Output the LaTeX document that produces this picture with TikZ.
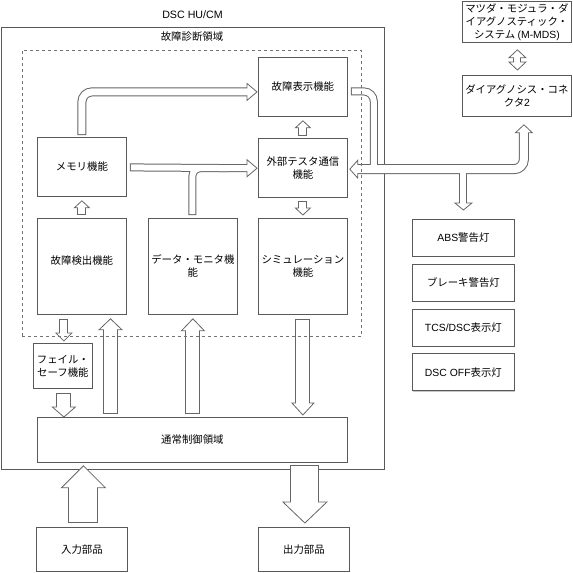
\documentclass[tikz,border=0pt]{standalone}
\usepackage{fontspec}
\setmainfont{Noto Sans CJK JP}
\newfontfamily\lat{Liberation Sans}
\usetikzlibrary{calc,positioning,shadows}

\pgfdeclarelayer{shaftgray}
\pgfdeclarelayer{heads}
\pgfdeclarelayer{shaftwhite}
\pgfdeclarelayer{front}
\pgfsetlayers{main,shaftgray,heads,shaftwhite,front}

\tikzset{
  box/.style={draw=black!65, fill=white, line width=0.6pt, align=center, inner sep=0.5pt,
    font=\fontsize{7.8pt}{9.75pt}\selectfont, anchor=north west,
    drop shadow={shadow xshift=0.75pt, shadow yshift=-0.75pt, fill=black!22, opacity=1}},
  func/.style={box, minimum width=66.75pt, minimum height=44.25pt},
  tall/.style={box, minimum width=66.75pt, minimum height=72pt},
  lamp/.style={box, minimum width=76.5pt, minimum height=27.75pt},
  part/.style={box, minimum width=68.25pt, minimum height=33pt},
  region/.style={draw=black!65, line width=0.6pt, inner sep=0pt, anchor=north west},
  caption/.style={font=\fontsize{7.8pt}{9.75pt}\selectfont, inner sep=0pt},
  gray pass/.style={draw=black!60, line cap=butt},
  white pass/.style={draw=white, line cap=butt},
  headline/.style={draw=black!60, fill=white, line width=0.6pt, line join=miter},
}

% shaft of a block arrow: #2 width in px, #3 path
\newcommand\flexshaft[3][]{%
  \begin{pgfonlayer}{shaftgray}\draw[gray pass, line width=#2*0.75pt] #3;\end{pgfonlayer}%
  \begin{pgfonlayer}{shaftwhite}\draw[white pass, line width=#2*0.75pt-1.5pt, #1] #3;\end{pgfonlayer}}
% head of a block arrow: tip, angle, length, half width
\newcommand\flexhead[4]{%
  \begin{pgfonlayer}{heads}\filldraw[headline, shift={#1}, rotate=#2] (0,0) -- (-#3,#4) -- (-#3,-#4) -- cycle;\end{pgfonlayer}}

\begin{document}
\begin{tikzpicture}[x=0.75pt, y=-0.75pt]
  \useasboundingbox (0,0) rectangle (573,572);

  % DSC HU/CM
  \node[region, minimum width=287.25pt, minimum height=331.5pt] (hucm) at (1,27) {};
  \node[caption, font=\lat\fontsize{8pt}{9.6pt}\selectfont] (hucmtitle) at (192.5,15) {DSC HU/CM};
  \node[caption] (diagtitle) at (192,37) {故障診断領域};

  \node[func] (koshohyoji) at (258,57) {故障表示機能};
  \node[func] (memory) at (37,137) {メモリ機能};
  \node[func, below=15.75pt of koshohyoji] (gaibu) {外部テスタ通信\\機能};
  \node[tall] (kenshutsu) at (37,218) {故障検出機能\\\mbox{}};
  \node[tall] (datamon) at (148,218) {データ・モニタ機\\能};
  \node[tall] (simulation) at (258,218) {シミュレーション\\機能};
  \node[box, minimum width=44.25pt, minimum height=33.75pt] (failsafe) at (33,343) {フェイル・\\セーフ機能};
  \node[box, minimum width=232.5pt, minimum height=33.75pt] (tsujo) at (37,417) {通常制御領域};

  \node[part] (nyuryoku) at (36,527) {入力部品};
  \node[part] (shutsuryoku) at (258,527) {出力部品};

  \node[box, minimum width=81.75pt, minimum height=30.75pt] (mmds) at (462,1) {マツダ・モジュラ・ダ\\イアグノスティック・\\システム {\lat(M-MDS)}};
  \node[box, minimum width=81.75pt, minimum height=30.75pt] (diag) at (462,75) {ダイアグノシス・コネ\\クタ{\lat 2}};

  \node[lamp] (abs) at (412,219) {{\lat ABS}警告灯};
  \node[lamp, below=5.25pt of abs] (brake) {ブレーキ警告灯};
  \node[lamp, below=5.25pt of brake] (tcs) {{\lat TCS/DSC}表示灯};
  \node[lamp, below=5.25pt of tcs] (dscoff) {{\lat DSC OFF}表示灯};

  \begin{pgfonlayer}{front}
    \node[region, draw=black!55, dash pattern=on 2.25pt off 2.25pt, minimum width=254.6pt, minimum height=214.5pt] (diagarea) at (22,50) {};
  \end{pgfonlayer}

  % memory -> display, memory/data monitor -> tester
  \flexshaft[shorten <=0.75pt]{9}{[rounded corners=7.5pt] ($(memory.north)+(0,-2)$) |- ($(koshohyoji.west)+(-8,5)$)}
  \flexhead{($(koshohyoji.west)+(-1,5)$)}{0}{10}{8.5}
  \flexshaft[shorten <=0.75pt]{8}{($(memory.east)+(3,0.5)$) -- ($(gaibu.west)+(-8,0.5)$)}
  \flexshaft[shorten <=0.75pt]{8}{[rounded corners=6pt] ($(datamon.north)+(-0.5,-3)$) |- ($(gaibu.west)+(-30,0.5)$)}
  \flexhead{($(gaibu.west)+(-1,0.5)$)}{0}{10}{8.5}

  % small arrows
  \flexshaft[shorten <=0.75pt]{9}{($(kenshutsu.north)+(0,-3)$) -- ($(memory.south)+(0,9)$)}
  \flexhead{($(memory.south)+(0,4)$)}{90}{7}{7.5}
  \flexshaft[shorten <=0.75pt]{9}{($(gaibu.north)+(0,-2)$) -- ($(koshohyoji.south)+(0,9)$)}
  \flexhead{($(koshohyoji.south)+(0,4)$)}{90}{7}{7.5}
  \flexshaft[shorten <=0.75pt]{9}{($(gaibu.south)+(0,3)$) -- ($(simulation.north)+(0,-8)$)}
  \flexhead{($(simulation.north)+(0,-3)$)}{-90}{7}{7.5}

  % fail-safe
  \flexshaft[shorten <=0.75pt]{9}{($(failsafe.north |- kenshutsu.south)+(1,4)$) -- ($(failsafe.north)+(1,-8)$)}
  \flexhead{($(failsafe.north)+(1,-2)$)}{-90}{8}{8}
  \flexshaft[shorten <=0.75pt]{15}{($(failsafe.south)+(1,4)$) -- ($(failsafe.south |- tsujo.north)+(1,-8)$)}
  \flexhead{($(failsafe.south |- tsujo.north)+(1,0)$)}{-90}{10}{11.5}

  % normal control <-> diagnosis
  \flexshaft[shorten <=0.75pt]{15}{($(tsujo.north west)+(73.5,-3)$) -- ($(kenshutsu.south west)+(73.5,13)$)}
  \flexhead{($(kenshutsu.south west)+(73.5,4)$)}{90}{11}{11.5}
  \flexshaft[shorten <=0.75pt]{15}{($(datamon.south |- tsujo.north)+(0,-3)$) -- ($(datamon.south)+(0,14)$)}
  \flexhead{($(datamon.south)+(0,4)$)}{90}{12}{11.5}
  \flexshaft[shorten <=0.75pt]{15}{($(simulation.south)+(0,4)$) -- ($(simulation.south |- tsujo.north)+(0,-12)$)}
  \flexhead{($(simulation.south |- tsujo.north)+(0,-2)$)}{-90}{12}{11}

  % parts
  \flexshaft[shorten <=0.75pt]{30}{($(nyuryoku.north)+(1.5,-4)$) -- ($(nyuryoku.north |- tsujo.south)+(1.5,23)$)}
  \flexhead{($(nyuryoku.north |- tsujo.south)+(1.5,3)$)}{90}{22}{22}
  \flexshaft[shorten <=0.75pt]{29}{($(shutsuryoku.north |- tsujo.south)+(1,2)$) -- ($(shutsuryoku.north)+(1,-23)$)}
  \flexhead{($(shutsuryoku.north)+(1,-4)$)}{-90}{21}{22}

  % tester line
  \flexshaft[shorten <=0.75pt]{8}{[rounded corners=7.5pt] ($(koshohyoji.east)+(3,4.5)$) -| ($(gaibu.east)+(26,1.5)$)}
  \flexshaft{10}{[rounded corners=7.5pt] ($(gaibu.east)+(8,1.5)$) -| ($(diag.south)+(7,12)$)}
  \flexhead{($(gaibu.east)+(2,1.5)$)}{180}{8}{9}
  \flexhead{($(diag.south)+(7,8)$)}{90}{8}{8.5}
  \flexshaft{8}{($(abs.north)+(0,-51)$) -- ($(abs.north)+(0,-14)$)}
  \flexhead{($(abs.north)+(0,-9)$)}{-90}{7}{8.5}
  \flexshaft{8}{($(mmds.south)+(0.5,11)$) -- ($(mmds.south |- diag.north)+(0.5,-9)$)}
  \flexhead{($(mmds.south)+(0.5,7)$)}{90}{8}{8.5}
  \flexhead{($(mmds.south |- diag.north)+(0.5,-5)$)}{-90}{8}{8.5}
\end{tikzpicture}
\end{document}
